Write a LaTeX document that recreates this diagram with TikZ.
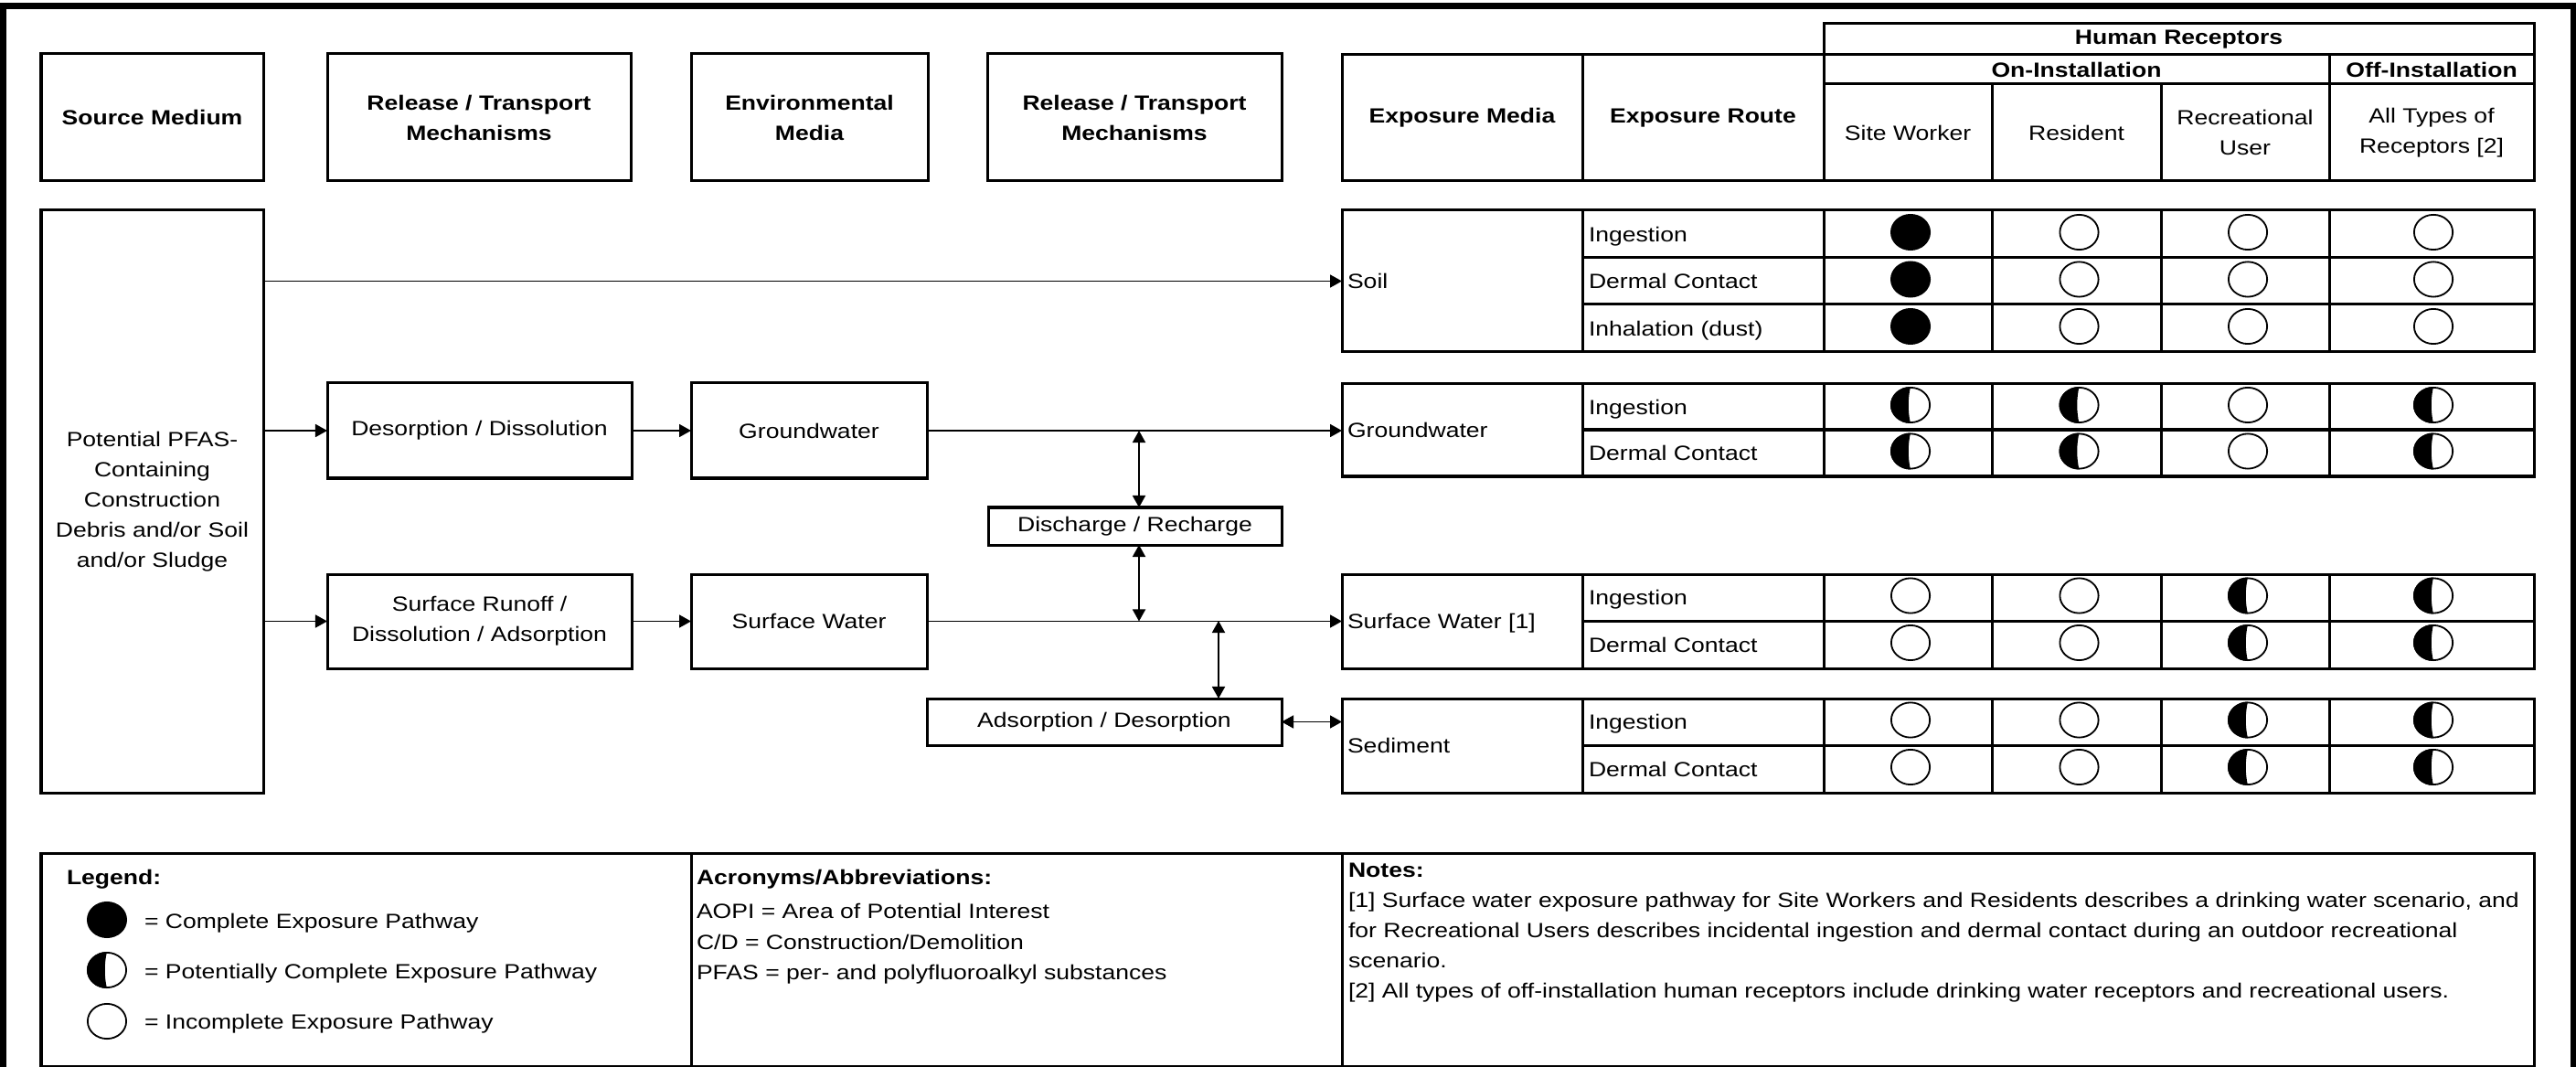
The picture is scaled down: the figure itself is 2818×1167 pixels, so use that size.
\documentclass[tikz,border=0pt]{standalone}
\usepackage{fontspec}
\setmainfont[FakeStretch=1.18]{Liberation Sans}
\usetikzlibrary{arrows.meta,positioning}

\newcommand{\figfont}{\fontsize{6.4pt}{9.4pt}\selectfont}

% box from corner (#2,#3) to corner (#4,#5), in pixels
\newcommand{\mybox}[6]{%
    \node[cell, minimum width={(#4-#2)*0.01cm}, minimum height={(#5-#3)*0.01cm}] (#1) at ({(#2+#4)/2},{(#3+#5)/2}) {#6};
}

% one exposure route and its four receptor marks
\newcommand{\exprow}[8]{%
    \mybox{#1}{1731}{#2}{1995}{#3}{}
    \node[lbl, right=0.07cm of #1.west] (#1-t) {#4};
    \mybox{#1-a}{1995}{#2}{2179}{#3}{}
    \mybox{#1-b}{2179}{#2}{2364}{#3}{}
    \mybox{#1-c}{2364}{#2}{2548}{#3}{}
    \mybox{#1-d}{2548}{#2}{2772}{#3}{}
    \pic at ([xshift=0.03cm,yshift=0.02cm]#1-a.center) {#5};
    \pic at ([xshift=0.03cm,yshift=0.02cm]#1-b.center) {#6};
    \pic at ([xshift=0.03cm,yshift=0.02cm]#1-c.center) {#7};
    \pic at ([xshift=0.02cm,yshift=0.02cm]#1-d.center) {#8};
}

\tikzset{
    cell/.style={draw, line width=0.03cm, inner sep=0pt, outer sep=0pt, align=center},
    lbl/.style={inner sep=0pt, outer sep=0pt, text height=0.16cm, text depth=0pt, anchor=west},
    flow/.style={line width=0.018cm, -{Triangle[length=0.13cm, width=0.14cm]}},
    both/.style={line width=0.018cm, {Triangle[length=0.13cm, width=0.14cm]}-{Triangle[length=0.13cm, width=0.14cm]}},
    fullmark/.pic={\fill (0,0) ellipse [x radius=0.22cm, y radius=0.2cm];},
    halfmark/.pic={
        \fill (0,-20) arc [start angle=90, end angle=270, x radius=0.22cm, y radius=0.2cm]
            .. controls (-3,8) and (-3,-8) .. (0,-20);
        \draw[line width=0.018cm] (0,0) ellipse [x radius=0.211cm, y radius=0.191cm];
    },
    openmark/.pic={\draw[line width=0.018cm] (0,0) ellipse [x radius=0.211cm, y radius=0.191cm];},
}

\begin{document}
\begin{tikzpicture}[x=0.01cm, y=-0.01cm, font=\figfont]
    \useasboundingbox (0,0) rectangle (2818,1167);
    % frame
    \draw[line width=0.065cm] (3.5,1167) -- (3.5,6.3) -- (2815,6.3) -- (2815,1167);

    % column titles
    \mybox{h-src}{45}{59}{288}{198}{\bfseries Source Medium}
    \mybox{h-rel1}{358}{59}{690}{198}{\bfseries Release / Transport\\\bfseries Mechanisms}
    \mybox{h-env}{756}{59}{1015}{198}{\bfseries Environmental\\\bfseries Media}
    \mybox{h-rel2}{1080}{59}{1402}{198}{\bfseries Release / Transport\\\bfseries Mechanisms}
    \mybox{h-med}{1468}{60}{1731}{198}{\bfseries Exposure Media}
    \mybox{h-route}{1731}{60}{1995}{198}{\bfseries Exposure Route}
    \mybox{h-hum}{1995}{26}{2772}{60}{\bfseries Human Receptors}
    \mybox{h-on}{1995}{60}{2548}{92}{\bfseries On-Installation}
    \mybox{h-off}{2548}{60}{2772}{92}{\bfseries Off-Installation}
    \mybox{h-sw}{1995}{92}{2179}{198}{Site Worker}
    \mybox{h-res}{2179}{92}{2364}{198}{Resident}
    \mybox{h-rec}{2364}{92}{2548}{198}{Recreational\\User}
    \mybox{h-all}{2548}{92}{2772}{198}{All Types of\\Receptors [2]}

    % source and transport
    \mybox{src}{45}{230}{288}{867}{Potential PFAS-\\Containing\\Construction\\Debris and/or Soil\\and/or Sludge}
    \mybox{desorb}{358}{419}{691}{523}{Desorption / Dissolution}
    \mybox{gw}{756}{419}{1014}{523}{Groundwater}
    \mybox{runoff}{358}{628}{691}{731}{Surface Runoff /\\Dissolution / Adsorption}
    \mybox{sw}{756}{628}{1014}{731}{Surface Water}
    \mybox{dischg}{1081}{555}{1402}{596}{Discharge / Recharge}
    \mybox{adsorb}{1014}{764}{1402}{815}{Adsorption / Desorption}

    % exposure media
    \mybox{m-soil}{1468}{230}{1731}{385}{}
    \mybox{m-gw}{1468}{420}{1731}{521}{}
    \mybox{m-sw}{1468}{628}{1731}{731}{}
    \mybox{m-sed}{1468}{764}{1731}{867}{}
    \node[lbl, right=0.06cm of m-soil.west] (m-soil-t) {Soil};
    \node[lbl, right=0.06cm of m-gw.west] (m-gw-t) {Groundwater};
    \node[lbl, right=0.06cm of m-sw.west] (m-sw-t) {Surface Water [1]};
    \node[lbl, right=0.06cm of m-sed.west] (m-sed-t) {Sediment};

    % routes and receptors
    \exprow{soil1}{230}{282}{Ingestion}{fullmark}{openmark}{openmark}{openmark}
    \exprow{soil2}{282}{333}{Dermal Contact}{fullmark}{openmark}{openmark}{openmark}
    \exprow{soil3}{333}{385}{Inhalation (dust)}{fullmark}{openmark}{openmark}{openmark}
    \exprow{gw1}{420}{470}{Ingestion}{halfmark}{halfmark}{openmark}{halfmark}
    \exprow{gw2}{470}{521}{Dermal Contact}{halfmark}{halfmark}{openmark}{halfmark}
    \exprow{sw1}{628}{679}{Ingestion}{openmark}{openmark}{halfmark}{halfmark}
    \exprow{sw2}{679}{731}{Dermal Contact}{openmark}{openmark}{halfmark}{halfmark}
    \exprow{sed1}{764}{815}{Ingestion}{openmark}{openmark}{halfmark}{halfmark}
    \exprow{sed2}{815}{867}{Dermal Contact}{openmark}{openmark}{halfmark}{halfmark}

    % pathways
    \draw[flow] (src.east |- m-soil.west) -- (m-soil.west);
    \draw[flow] (src.east |- desorb.west) -- (desorb.west);
    \draw[flow] (desorb.east) -- (gw.west);
    \draw[flow] (gw.east) -- (gw.east -| m-gw.west);
    \draw[flow] (src.east |- runoff.west) -- (runoff.west);
    \draw[flow] (runoff.east) -- (sw.west);
    \draw[flow] (sw.east) -- (sw.east -| m-sw.west);
    \coordinate (gwtap) at (1246,471);
    \coordinate (swtap) at (1333,679);
    \draw[both] (gwtap) -- (gwtap |- dischg.north);
    \draw[both] (gwtap |- dischg.south) -- (gwtap |- sw.east);
    \draw[both] (swtap) -- (swtap |- adsorb.north);
    \draw[both] (adsorb.east) -- (adsorb.east -| m-sed.west);

    % legend, acronyms, notes
    \mybox{legend}{45}{933}{756}{1166}{}
    \mybox{acro}{756}{933}{1468}{1166}{}
    \mybox{notes}{1468}{933}{2772}{1166}{}
    \node[lbl, font=\figfont\bfseries] (legend-t) at (73,959) {Legend:};
    \pic at (117,1006) {fullmark};
    \pic at (117,1061) {halfmark};
    \pic at (117,1117) {openmark};
    \node[lbl] (leg-full) at (158,1007) {= Complete Exposure Pathway};
    \node[lbl] (leg-half) at (158,1062) {= Potentially Complete Exposure Pathway};
    \node[lbl] (leg-open) at (158,1117) {= Incomplete Exposure Pathway};
    \node[lbl, font=\figfont\bfseries] (acro-t) at (762,959) {Acronyms/Abbreviations:};
    \node[lbl] (acro-1) at (762,996) {AOPI = Area of Potential Interest};
    \node[lbl] (acro-2) at (762,1030) {C/D = Construction/Demolition};
    \node[lbl] (acro-3) at (762,1063) {PFAS = per- and polyfluoroalkyl substances};
    \node[lbl, font=\figfont\bfseries] (notes-t) at (1475,951) {Notes:};
    \node[lbl] (note-1) at (1475,984) {[1] Surface water exposure pathway for Site Workers and Residents describes a drinking water scenario, and};
    \node[lbl] (note-2) at (1475,1017) {for Recreational Users describes incidental ingestion and dermal contact during an outdoor recreational};
    \node[lbl] (note-3) at (1475,1050) {scenario.};
    \node[lbl] (note-4) at (1475,1083) {[2] All types of off-installation human receptors include drinking water receptors and recreational users.};
\end{tikzpicture}
\end{document}
